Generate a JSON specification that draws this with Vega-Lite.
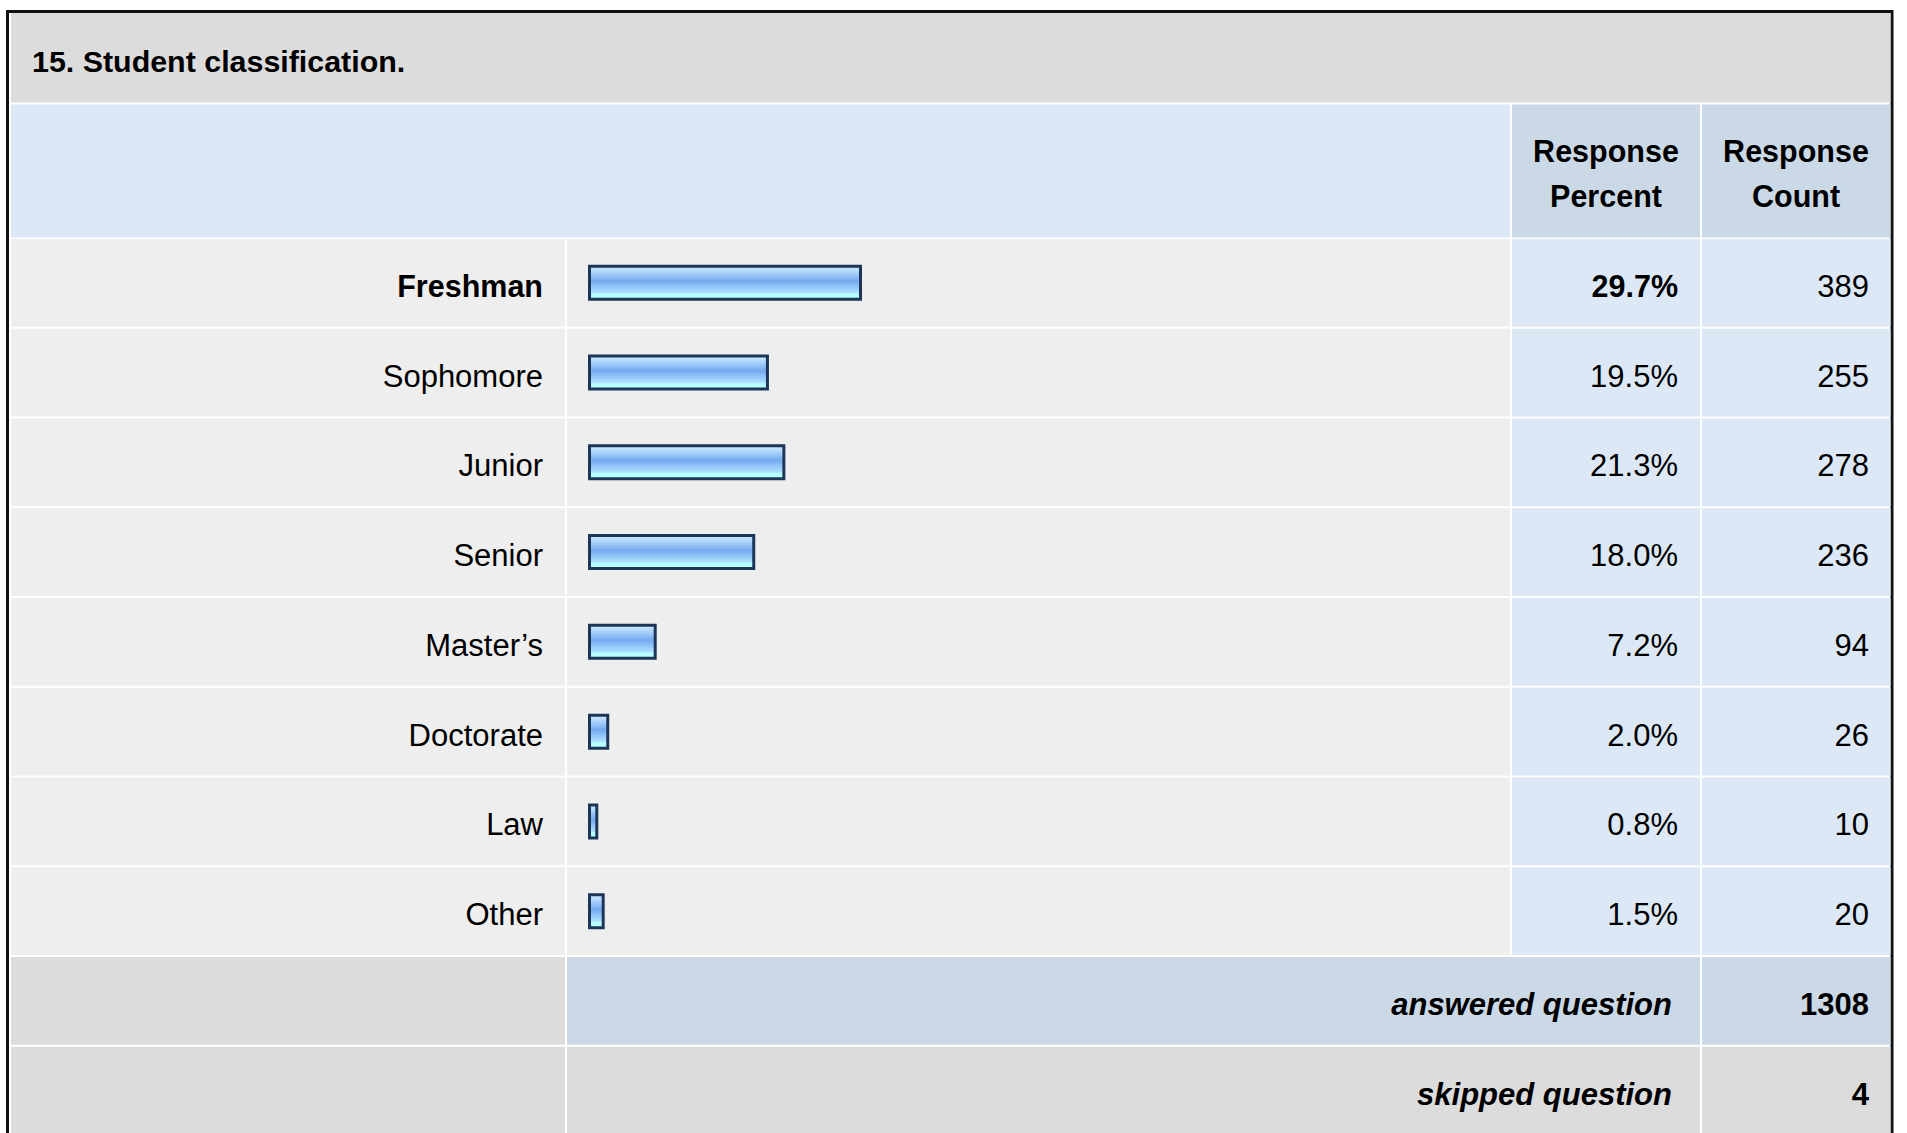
{
  "$schema": "https://vega.github.io/schema/vega-lite/v6.json",
  "width": 1907,
  "height": 1133,
  "autosize": "none",
  "padding": 0,
  "background": "white",
  "config": {"view": {"stroke": null}, "font": "Liberation Sans", "text": {"font": "Liberation Sans", "fill": "#000000"}},
  "datasets": {
    "rows": [
      {"answer": "Freshman", "share": 0.297, "count": 389},
      {"answer": "Sophomore", "share": 0.195, "count": 255},
      {"answer": "Junior", "share": 0.213, "count": 278},
      {"answer": "Senior", "share": 0.180, "count": 236},
      {"answer": "Master’s", "share": 0.072, "count": 94},
      {"answer": "Doctorate", "share": 0.020, "count": 26},
      {"answer": "Law", "share": 0.008, "count": 10},
      {"answer": "Other", "share": 0.015, "count": 20}
    ],
    "summary": [
      {"answer": "answered question", "count": 1308},
      {"answer": "skipped question", "count": 4}
    ],
    "one": [{}]
  },
  "resolve": {"scale": {"x": "independent", "y": "independent"}},
  "layer": [
    {
      "data": {"name": "one"},
      "mark": {"type": "rect", "fill": "white", "stroke": "#111111", "strokeWidth": 3},
      "encoding": {
        "x": {"datum": 7.5, "scale": {"type": "linear", "domain": [0, 1907], "range": [0, 1907], "nice": false, "zero": false}, "axis": null},
        "x2": {"datum": 1892},
        "y": {"datum": 11.5, "scale": {"type": "linear", "domain": [0, 1133], "range": [0, 1133], "nice": false, "zero": false}, "axis": null},
        "y2": {"datum": 1150}
      }
    },
    {
      "data": {"name": "one"},
      "mark": {"type": "rect", "fill": "#dcdcdc"},
      "encoding": {
        "x": {"datum": 11, "scale": {"type": "linear", "domain": [0, 1907], "range": [0, 1907], "nice": false, "zero": false}, "axis": null},
        "x2": {"datum": 1890.5},
        "y": {"datum": 13, "scale": {"type": "linear", "domain": [0, 1133], "range": [0, 1133], "nice": false, "zero": false}, "axis": null},
        "y2": {"datum": 102.5}
      }
    },
    {
      "data": {"name": "one"},
      "mark": {"type": "rect", "fill": "#dce8f5"},
      "encoding": {
        "x": {"datum": 11, "scale": {"type": "linear", "domain": [0, 1907], "range": [0, 1907], "nice": false, "zero": false}, "axis": null},
        "x2": {"datum": 1510},
        "y": {"datum": 104.5, "scale": {"type": "linear", "domain": [0, 1133], "range": [0, 1133], "nice": false, "zero": false}, "axis": null},
        "y2": {"datum": 237.5}
      }
    },
    {
      "data": {"name": "one"},
      "mark": {"type": "rect", "fill": "#cbd8e6"},
      "encoding": {
        "x": {"datum": 1512, "scale": {"type": "linear", "domain": [0, 1907], "range": [0, 1907], "nice": false, "zero": false}, "axis": null},
        "x2": {"datum": 1700},
        "y": {"datum": 104.5, "scale": {"type": "linear", "domain": [0, 1133], "range": [0, 1133], "nice": false, "zero": false}, "axis": null},
        "y2": {"datum": 237.5}
      }
    },
    {
      "data": {"name": "one"},
      "mark": {"type": "rect", "fill": "#cbd8e6"},
      "encoding": {
        "x": {"datum": 1702, "scale": {"type": "linear", "domain": [0, 1907], "range": [0, 1907], "nice": false, "zero": false}, "axis": null},
        "x2": {"datum": 1890.5},
        "y": {"datum": 104.5, "scale": {"type": "linear", "domain": [0, 1133], "range": [0, 1133], "nice": false, "zero": false}, "axis": null},
        "y2": {"datum": 237.5}
      }
    },
    {
      "data": {"name": "rows"},
      "mark": {"type": "rect", "fill": "#eeeeee"},
      "encoding": {
        "x": {"datum": 11, "scale": {"type": "linear", "domain": [0, 1907], "range": [0, 1907], "nice": false, "zero": false}, "axis": null},
        "x2": {"datum": 565},
        "y": {"field": "answer", "type": "nominal", "axis": null, "scale": {"type": "band", "domain": ["Freshman", "Sophomore", "Junior", "Senior", "Master’s", "Doctorate", "Law", "Other", "answered question", "skipped question"], "range": [239, 1134.5], "paddingInner": 0.0223, "paddingOuter": 0}}
      }
    },
    {
      "data": {"name": "rows"},
      "mark": {"type": "rect", "fill": "#eeeeee"},
      "encoding": {
        "x": {"datum": 567, "scale": {"type": "linear", "domain": [0, 1907], "range": [0, 1907], "nice": false, "zero": false}, "axis": null},
        "x2": {"datum": 1510},
        "y": {"field": "answer", "type": "nominal", "axis": null, "scale": {"type": "band", "domain": ["Freshman", "Sophomore", "Junior", "Senior", "Master’s", "Doctorate", "Law", "Other", "answered question", "skipped question"], "range": [239, 1134.5], "paddingInner": 0.0223, "paddingOuter": 0}}
      }
    },
    {
      "data": {"name": "rows"},
      "mark": {"type": "rect", "fill": "#dce8f5"},
      "encoding": {
        "x": {"datum": 1512, "scale": {"type": "linear", "domain": [0, 1907], "range": [0, 1907], "nice": false, "zero": false}, "axis": null},
        "x2": {"datum": 1700},
        "y": {"field": "answer", "type": "nominal", "axis": null, "scale": {"type": "band", "domain": ["Freshman", "Sophomore", "Junior", "Senior", "Master’s", "Doctorate", "Law", "Other", "answered question", "skipped question"], "range": [239, 1134.5], "paddingInner": 0.0223, "paddingOuter": 0}}
      }
    },
    {
      "data": {"name": "rows"},
      "mark": {"type": "rect", "fill": "#dce8f5"},
      "encoding": {
        "x": {"datum": 1702, "scale": {"type": "linear", "domain": [0, 1907], "range": [0, 1907], "nice": false, "zero": false}, "axis": null},
        "x2": {"datum": 1890.5},
        "y": {"field": "answer", "type": "nominal", "axis": null, "scale": {"type": "band", "domain": ["Freshman", "Sophomore", "Junior", "Senior", "Master’s", "Doctorate", "Law", "Other", "answered question", "skipped question"], "range": [239, 1134.5], "paddingInner": 0.0223, "paddingOuter": 0}}
      }
    },
    {
      "data": {"name": "summary"},
      "mark": {"type": "rect", "fill": "#dcdcdc"},
      "encoding": {
        "x": {"datum": 11, "scale": {"type": "linear", "domain": [0, 1907], "range": [0, 1907], "nice": false, "zero": false}, "axis": null},
        "x2": {"datum": 565},
        "y": {"field": "answer", "type": "nominal", "axis": null, "scale": {"type": "band", "domain": ["Freshman", "Sophomore", "Junior", "Senior", "Master’s", "Doctorate", "Law", "Other", "answered question", "skipped question"], "range": [239, 1134.5], "paddingInner": 0.0223, "paddingOuter": 0}}
      }
    },
    {
      "data": {"name": "summary"},
      "mark": {"type": "rect"},
      "encoding": {
        "x": {"datum": 567, "scale": {"type": "linear", "domain": [0, 1907], "range": [0, 1907], "nice": false, "zero": false}, "axis": null},
        "x2": {"datum": 1700},
        "y": {"field": "answer", "type": "nominal", "axis": null, "scale": {"type": "band", "domain": ["Freshman", "Sophomore", "Junior", "Senior", "Master’s", "Doctorate", "Law", "Other", "answered question", "skipped question"], "range": [239, 1134.5], "paddingInner": 0.0223, "paddingOuter": 0}},
        "color": {"field": "answer", "type": "nominal", "legend": null, "scale": {"domain": ["answered question", "skipped question"], "range": ["#cbd8e6", "#dcdcdc"]}}
      }
    },
    {
      "data": {"name": "summary"},
      "mark": {"type": "rect"},
      "encoding": {
        "x": {"datum": 1702, "scale": {"type": "linear", "domain": [0, 1907], "range": [0, 1907], "nice": false, "zero": false}, "axis": null},
        "x2": {"datum": 1890.5},
        "y": {"field": "answer", "type": "nominal", "axis": null, "scale": {"type": "band", "domain": ["Freshman", "Sophomore", "Junior", "Senior", "Master’s", "Doctorate", "Law", "Other", "answered question", "skipped question"], "range": [239, 1134.5], "paddingInner": 0.0223, "paddingOuter": 0}},
        "color": {"field": "answer", "type": "nominal", "legend": null, "scale": {"domain": ["answered question", "skipped question"], "range": ["#cbd8e6", "#dcdcdc"]}}
      }
    },
    {
      "data": {"name": "rows"},
      "mark": {
        "type": "bar",
        "size": 33,
        "stroke": "#1d3658",
        "strokeWidth": 3,
        "fill": {
          "gradient": "linear", "x1": 0, "y1": 0, "x2": 0, "y2": 1,
          "stops": [
            {"offset": 0, "color": "#d4ebff"},
            {"offset": 0.2, "color": "#a8d2fb"},
            {"offset": 0.45, "color": "#74a9ef"},
            {"offset": 0.6, "color": "#8fc3f8"},
            {"offset": 0.8, "color": "#aee0ff"},
            {"offset": 0.84, "color": "#b6ffff"},
            {"offset": 1, "color": "#b6ffff"}
          ]
        }
      },
      "encoding": {
        "x": {"field": "share", "type": "quantitative", "axis": null, "scale": {"type": "linear", "domain": [0, 1], "range": [589.5, 1502], "nice": false}},
        "y": {"field": "answer", "type": "nominal", "axis": null, "scale": {"type": "band", "domain": ["Freshman", "Sophomore", "Junior", "Senior", "Master’s", "Doctorate", "Law", "Other", "answered question", "skipped question"], "range": [239, 1134.5], "paddingInner": 0.0223, "paddingOuter": 0}}
      }
    },
    {
      "data": {"name": "rows"},
      "transform": [
        {"joinaggregate": [{"op": "max", "field": "share", "as": "top"}]},
        {"filter": "datum.share !== datum.top"}
      ],
      "mark": {"type": "text", "font": "Liberation Sans", "align": "right", "baseline": "middle", "fontSize": 31, "dy": 5},
      "encoding": {
        "text": {"field": "answer", "type": "nominal"},
        "x": {"datum": 543, "scale": {"type": "linear", "domain": [0, 1907], "range": [0, 1907], "nice": false, "zero": false}, "axis": null},
        "y": {"field": "answer", "type": "nominal", "axis": null, "scale": {"type": "band", "domain": ["Freshman", "Sophomore", "Junior", "Senior", "Master’s", "Doctorate", "Law", "Other", "answered question", "skipped question"], "range": [239, 1134.5], "paddingInner": 0.0223, "paddingOuter": 0}}
      }
    },
    {
      "data": {"name": "rows"},
      "transform": [
        {"joinaggregate": [{"op": "max", "field": "share", "as": "top"}]},
        {"filter": "datum.share === datum.top"}
      ],
      "mark": {"type": "text", "font": "Liberation Sans", "align": "right", "baseline": "middle", "fontSize": 30.5, "fontWeight": "bold", "dy": 5},
      "encoding": {
        "text": {"field": "answer", "type": "nominal"},
        "x": {"datum": 543, "scale": {"type": "linear", "domain": [0, 1907], "range": [0, 1907], "nice": false, "zero": false}, "axis": null},
        "y": {"field": "answer", "type": "nominal", "axis": null, "scale": {"type": "band", "domain": ["Freshman", "Sophomore", "Junior", "Senior", "Master’s", "Doctorate", "Law", "Other", "answered question", "skipped question"], "range": [239, 1134.5], "paddingInner": 0.0223, "paddingOuter": 0}}
      }
    },
    {
      "data": {"name": "rows"},
      "transform": [
        {"joinaggregate": [{"op": "max", "field": "share", "as": "top"}]},
        {"filter": "datum.share !== datum.top"}
      ],
      "mark": {"type": "text", "font": "Liberation Sans", "align": "right", "baseline": "middle", "fontSize": 31, "dy": 5},
      "encoding": {
        "text": {"field": "share", "type": "quantitative", "format": ".1%"},
        "x": {"datum": 1678, "scale": {"type": "linear", "domain": [0, 1907], "range": [0, 1907], "nice": false, "zero": false}, "axis": null},
        "y": {"field": "answer", "type": "nominal", "axis": null, "scale": {"type": "band", "domain": ["Freshman", "Sophomore", "Junior", "Senior", "Master’s", "Doctorate", "Law", "Other", "answered question", "skipped question"], "range": [239, 1134.5], "paddingInner": 0.0223, "paddingOuter": 0}}
      }
    },
    {
      "data": {"name": "rows"},
      "transform": [
        {"joinaggregate": [{"op": "max", "field": "share", "as": "top"}]},
        {"filter": "datum.share === datum.top"}
      ],
      "mark": {"type": "text", "font": "Liberation Sans", "align": "right", "baseline": "middle", "fontSize": 30.5, "fontWeight": "bold", "dy": 5},
      "encoding": {
        "text": {"field": "share", "type": "quantitative", "format": ".1%"},
        "x": {"datum": 1678, "scale": {"type": "linear", "domain": [0, 1907], "range": [0, 1907], "nice": false, "zero": false}, "axis": null},
        "y": {"field": "answer", "type": "nominal", "axis": null, "scale": {"type": "band", "domain": ["Freshman", "Sophomore", "Junior", "Senior", "Master’s", "Doctorate", "Law", "Other", "answered question", "skipped question"], "range": [239, 1134.5], "paddingInner": 0.0223, "paddingOuter": 0}}
      }
    },
    {
      "data": {"name": "rows"},
      "mark": {"type": "text", "font": "Liberation Sans", "align": "right", "baseline": "middle", "fontSize": 31, "dy": 5},
      "encoding": {
        "text": {"field": "count", "type": "quantitative"},
        "x": {"datum": 1869, "scale": {"type": "linear", "domain": [0, 1907], "range": [0, 1907], "nice": false, "zero": false}, "axis": null},
        "y": {"field": "answer", "type": "nominal", "axis": null, "scale": {"type": "band", "domain": ["Freshman", "Sophomore", "Junior", "Senior", "Master’s", "Doctorate", "Law", "Other", "answered question", "skipped question"], "range": [239, 1134.5], "paddingInner": 0.0223, "paddingOuter": 0}}
      }
    },
    {
      "data": {"name": "summary"},
      "mark": {"type": "text", "font": "Liberation Sans", "align": "right", "baseline": "middle", "fontSize": 31, "fontWeight": "bold", "fontStyle": "italic", "dy": 5},
      "encoding": {
        "text": {"field": "answer", "type": "nominal"},
        "x": {"datum": 1672, "scale": {"type": "linear", "domain": [0, 1907], "range": [0, 1907], "nice": false, "zero": false}, "axis": null},
        "y": {"field": "answer", "type": "nominal", "axis": null, "scale": {"type": "band", "domain": ["Freshman", "Sophomore", "Junior", "Senior", "Master’s", "Doctorate", "Law", "Other", "answered question", "skipped question"], "range": [239, 1134.5], "paddingInner": 0.0223, "paddingOuter": 0}}
      }
    },
    {
      "data": {"name": "summary"},
      "mark": {"type": "text", "font": "Liberation Sans", "align": "right", "baseline": "middle", "fontSize": 31, "fontWeight": "bold", "dy": 5},
      "encoding": {
        "text": {"field": "count", "type": "quantitative"},
        "x": {"datum": 1869, "scale": {"type": "linear", "domain": [0, 1907], "range": [0, 1907], "nice": false, "zero": false}, "axis": null},
        "y": {"field": "answer", "type": "nominal", "axis": null, "scale": {"type": "band", "domain": ["Freshman", "Sophomore", "Junior", "Senior", "Master’s", "Doctorate", "Law", "Other", "answered question", "skipped question"], "range": [239, 1134.5], "paddingInner": 0.0223, "paddingOuter": 0}}
      }
    },
    {
      "data": {"name": "one"},
      "mark": {"type": "text", "font": "Liberation Sans", "text": "15. Student classification.", "align": "left", "baseline": "middle", "fontSize": 30.4, "fontWeight": "bold"},
      "encoding": {
        "x": {"datum": 32, "scale": {"type": "linear", "domain": [0, 1907], "range": [0, 1907], "nice": false, "zero": false}, "axis": null},
        "y": {"datum": 63, "scale": {"type": "linear", "domain": [0, 1133], "range": [0, 1133], "nice": false, "zero": false}, "axis": null}
      }
    },
    {
      "data": {"name": "one"},
      "mark": {"type": "text", "font": "Liberation Sans", "text": "Response", "align": "center", "baseline": "middle", "fontSize": 30.5, "fontWeight": "bold"},
      "encoding": {
        "x": {"datum": 1606, "scale": {"type": "linear", "domain": [0, 1907], "range": [0, 1907], "nice": false, "zero": false}, "axis": null},
        "y": {"datum": 153, "scale": {"type": "linear", "domain": [0, 1133], "range": [0, 1133], "nice": false, "zero": false}, "axis": null}
      }
    },
    {
      "data": {"name": "one"},
      "mark": {"type": "text", "font": "Liberation Sans", "text": "Percent", "align": "center", "baseline": "middle", "fontSize": 30.5, "fontWeight": "bold"},
      "encoding": {
        "x": {"datum": 1606, "scale": {"type": "linear", "domain": [0, 1907], "range": [0, 1907], "nice": false, "zero": false}, "axis": null},
        "y": {"datum": 198, "scale": {"type": "linear", "domain": [0, 1133], "range": [0, 1133], "nice": false, "zero": false}, "axis": null}
      }
    },
    {
      "data": {"name": "one"},
      "mark": {"type": "text", "font": "Liberation Sans", "text": "Response", "align": "center", "baseline": "middle", "fontSize": 30.5, "fontWeight": "bold"},
      "encoding": {
        "x": {"datum": 1796, "scale": {"type": "linear", "domain": [0, 1907], "range": [0, 1907], "nice": false, "zero": false}, "axis": null},
        "y": {"datum": 153, "scale": {"type": "linear", "domain": [0, 1133], "range": [0, 1133], "nice": false, "zero": false}, "axis": null}
      }
    },
    {
      "data": {"name": "one"},
      "mark": {"type": "text", "font": "Liberation Sans", "text": "Count", "align": "center", "baseline": "middle", "fontSize": 30.5, "fontWeight": "bold"},
      "encoding": {
        "x": {"datum": 1796, "scale": {"type": "linear", "domain": [0, 1907], "range": [0, 1907], "nice": false, "zero": false}, "axis": null},
        "y": {"datum": 198, "scale": {"type": "linear", "domain": [0, 1133], "range": [0, 1133], "nice": false, "zero": false}, "axis": null}
      }
    }
  ]
}
